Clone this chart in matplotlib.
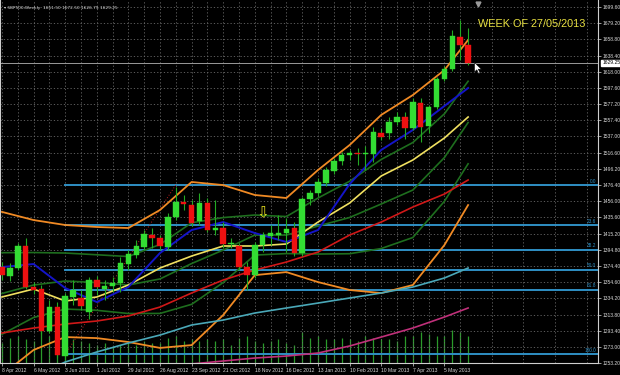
import matplotlib
matplotlib.use("Agg")
import matplotlib.pyplot as plt
from matplotlib.patches import Rectangle
from matplotlib.path import Path
import matplotlib.transforms as mtransforms
import numpy as np

# ---------------- data ----------------
x_labels = ["8 Apr 2012", "6 May 2012", "3 Jun 2012", "1 Jul 2012", "29 Jul 2012",
            "26 Aug 2012", "23 Sep 2012", "21 Oct 2012", "18 Nov 2012", "16 Dec 2012",
            "13 Jan 2013", "10 Feb 2013", "10 Mar 2013", "7 Apr 2013", "5 May 2013"]
x_label_bars = [0, 4, 8, 12, 16, 20, 24, 28, 32, 36, 40, 44, 48, 52, 56]

opens = [1373.4, 1362.2, 1372.2, 1399.8, 1348.4, 1345.9, 1293.2, 1323.3, 1261.9, 1335.9,
         1334.6, 1317.1, 1357.2, 1345.9, 1349.6, 1353.4, 1377.2, 1388.5, 1398.5, 1413.5,
         1409.8, 1398.5, 1436.1, 1454.9, 1451.1, 1431.1, 1453.6, 1419.8, 1422.3, 1402.3,
         1399.8, 1373.4, 1363.4, 1401.0, 1412.3, 1413.5, 1416.0, 1422.3, 1391.0, 1458.7,
         1466.2, 1478.7, 1493.7, 1506.3, 1513.8, 1516.3, 1515.0, 1515.0, 1541.3, 1541.3,
         1555.1, 1561.4, 1547.6, 1578.9, 1550.1, 1573.9, 1609.0, 1621.5, 1661.6, 1651.50]
highs = [1379.7, 1378.5, 1403.5, 1409.8, 1354.7, 1350.9, 1332.1, 1329.6, 1340.9, 1357.2,
         1344.6, 1360.9, 1362.2, 1357.2, 1360.9, 1386.0, 1394.7, 1407.3, 1419.8, 1422.3,
         1413.5, 1441.1, 1473.7, 1463.7, 1457.4, 1466.2, 1459.9, 1457.4, 1429.8, 1409.8,
         1403.5, 1379.7, 1404.8, 1417.3, 1426.1, 1438.6, 1434.8, 1429.8, 1461.2, 1470.0,
         1485.0, 1498.8, 1510.0, 1517.5, 1520.1, 1522.6, 1525.1, 1548.9, 1547.6, 1561.4,
         1567.7, 1567.7, 1585.2, 1585.2, 1576.4, 1611.5, 1625.3, 1670.4, 1682.9, 1672.50]
lows = [1357.2, 1355.9, 1369.7, 1345.9, 1339.6, 1289.5, 1290.8, 1259.4, 1256.9, 1325.8,
        1319.6, 1308.3, 1338.4, 1332.1, 1342.1, 1342.1, 1369.7, 1384.7, 1394.7, 1397.3,
        1394.7, 1394.7, 1432.3, 1444.9, 1424.8, 1426.1, 1417.3, 1413.5, 1397.3, 1397.3,
        1369.7, 1344.6, 1359.7, 1392.2, 1401.0, 1407.3, 1392.0, 1387.2, 1387.2, 1451.1,
        1462.4, 1474.9, 1490.0, 1501.3, 1507.5, 1501.3, 1495.0, 1505.0, 1532.6, 1533.8,
        1551.4, 1533.8, 1545.1, 1530.1, 1541.3, 1571.4, 1606.5, 1619.0, 1632.8, 1626.75]
closes = [1363.4, 1372.2, 1399.8, 1348.4, 1344.6, 1293.2, 1323.3, 1263.2, 1337.1, 1344.6,
          1324.6, 1357.2, 1348.4, 1349.6, 1353.4, 1378.5, 1389.7, 1399.8, 1414.8, 1409.8,
          1399.8, 1436.1, 1454.9, 1452.4, 1428.6, 1453.6, 1419.8, 1422.3, 1402.3, 1403.5,
          1373.4, 1363.4, 1401.0, 1413.5, 1416.0, 1416.0, 1421.1, 1391.0, 1458.7, 1466.2,
          1479.9, 1495.0, 1506.3, 1513.8, 1516.3, 1515.0, 1516.3, 1542.6, 1536.3, 1555.1,
          1561.4, 1547.6, 1580.2, 1548.9, 1573.9, 1609.0, 1621.5, 1662.9, 1651.6, 1629.25]
volumes = [22, 28, 30, 26, 24, 35, 30, 34, 40, 26, 24, 22, 20, 22, 18, 20, 22, 20, 24, 22,
           22, 28, 30, 24, 26, 24, 26, 24, 26, 20, 28, 30, 24, 22, 24, 26, 22, 20, 34, 28,
           30, 26, 26, 28, 26, 24, 30, 28, 26, 26, 24, 30, 30, 34, 32, 30, 30, 36, 34, 30]

ind_bars = [0, 4, 8, 12, 16, 20, 24, 28, 32, 36, 40, 44, 48, 52, 56, 59]
bb_mid = [1340.3, 1350.9, 1355.9, 1354.0, 1350.9, 1358.5, 1377.8, 1394.7, 1413.5, 1413.5,
          1424.8, 1435.5, 1452.4, 1469.9, 1510.6, 1554.5]
bb_sd = [51.1, 40.7, 35.1, 34.8, 35.7, 43.2, 51.1, 40.7, 25.1, 23.2, 35.1, 45.4, 55.8,
         59.5, 54.8, 51.7]
ma_blue = [1373.4, 1377.2, 1347.1, 1329.6, 1348.4, 1391.0, 1419.8, 1429.8, 1416.0, 1404.8,
           1419.8, 1477.4, 1520.1, 1545.1, 1575.2, 1597.7]
ma_yellow = [1335.9, 1345.9, 1330.9, 1335.9, 1350.9, 1372.2, 1387.2, 1399.8, 1399.8, 1402.3,
             1429.8, 1453.6, 1487.5, 1507.5, 1535.1, 1561.4]
ma_red = [1290.8, 1297.0, 1302.0, 1305.8, 1312.1, 1323.3, 1340.9, 1357.2, 1369.7, 1379.7,
          1392.2, 1413.5, 1429.8, 1448.6, 1464.9, 1482.5]
cyan_bars = [7, 8, 12, 16, 20, 24, 28, 32, 36, 40, 44, 48, 52, 56, 59]
ma_cyan = [1250.0, 1254.4, 1267.0, 1278.2, 1288.2, 1300.8, 1307.0, 1315.8, 1322.1, 1328.3,
           1334.6, 1340.9, 1348.4, 1359.7, 1372.2]
mag_bars = [24, 28, 32, 36, 40, 44, 48, 52, 56, 59]
ma_magenta = [1252.0, 1255.7, 1259.4, 1261.9, 1265.7, 1274.5, 1285.7, 1297.0, 1310.8, 1322.1]

fib_start_bar, fib_end_bar = 8, 22
fib_low, fib_high = 1264.0, 1476.4
fib_levels = [0.0, 23.6, 38.2, 50.0, 61.8, 100.0]

y_ticks = [1699.60, 1679.20, 1658.80, 1638.40, 1618.00, 1597.60, 1577.20, 1557.40, 1537.00,
           1516.60, 1496.20, 1476.40, 1456.00, 1435.60, 1415.20, 1394.80, 1374.40, 1354.60,
           1334.20, 1313.80, 1293.40, 1273.00, 1253.20]
bid_price = 1629.25
header = "SBP500,Weekly  1651.50 1672.50 1626.75 1629.25"
note_text = "WEEK OF 27/05/2013"
arrow_bar, arrow_price = 33, 1441.0
cursor_bar, cursor_price = 59.75, 1630.0
shift_bar = 60.25

# ---------------- styling ----------------
BG = "black"
FG = "#d8d8d8"
GRID = "#6a6a6a"
UP = "#33dd33"
DOWN = "#ee1111"
WICK = "#22aa22"
FIBC = "#2f8fc4"

fig = plt.figure(figsize=(6.2, 3.75), dpi=100, facecolor=BG)
ax = fig.add_axes([0.0, 12 / 375, 598 / 620, 363 / 375])
ax.set_facecolor(BG)
ax.set_xlim(-0.25, 75.44)
ax.set_ylim(1253.2, 1708.0)

# volumes on a twin axis
axv = ax.twinx()
axv.set_ylim(0, 400)
axv.vlines(range(len(volumes)), 0, volumes, color="#2a9a2a", lw=0.9, zorder=1)
axv.axis("off")
ax.set_zorder(axv.get_zorder() + 1)
ax.patch.set_visible(False)
fig.patch.set_facecolor(BG)
axv.set_facecolor(BG)

# grid
ax.set_yticks(y_ticks)
ax.set_xticks(x_label_bars)
ax.set_xticks(np.arange(2, 76, 4), minor=True)
ax.grid(True, which="both", color=GRID, ls=(0, (1.5, 2.5)), lw=0.6, zorder=0)

# fibonacci
for lv in fib_levels:
    p = fib_high - lv / 100.0 * (fib_high - fib_low)
    ax.plot([fib_start_bar, 75.44], [p, p], color=FIBC, lw=1.4, zorder=2)
    ax.text(75.2, p + 1.5, f"{lv:.1f}", color=FIBC, fontsize=3.4, ha="right", va="bottom",
            zorder=3, family="Liberation Sans")
ax.plot([fib_start_bar, fib_end_bar], [fib_low, fib_high], color="#c02020", lw=0.7,
        ls=(0, (1, 2)), zorder=2)

# indicator lines
mid = np.array(bb_mid)
sd = np.array(bb_sd)
ax.plot(ind_bars, mid + 2 * sd, color="#f08a24", lw=1.3, zorder=3)
ax.plot(ind_bars, mid - 2 * sd, color="#f08a24", lw=1.3, zorder=3)
ax.plot(ind_bars, mid + sd, color="#1e6e1e", lw=1.2, zorder=3)
ax.plot(ind_bars, mid - sd, color="#1e6e1e", lw=1.2, zorder=3)
ax.plot(ind_bars, mid, color="#1e6e1e", lw=1.2, zorder=3)
ax.plot(cyan_bars, ma_cyan, color="#4aa8b8", lw=1.2, zorder=3)
ax.plot(mag_bars, ma_magenta, color="#c0307a", lw=1.2, zorder=3)
ax.plot(ind_bars, ma_red, color="#d01818", lw=1.2, zorder=3)
ax.plot(ind_bars, ma_yellow, color="#f0e060", lw=1.2, zorder=4)
ax.plot(ind_bars, ma_blue, color="#1414c8", lw=1.4, zorder=4)

# candles
bw = 0.7
for i, (o, h, l, c) in enumerate(zip(opens, highs, lows, closes)):
    ax.vlines(i, l, h, color=WICK, lw=0.8, zorder=5)
    col = UP if c >= o else DOWN
    ax.add_patch(Rectangle((i - bw / 2, min(o, c)), bw, max(abs(c - o), 0.8),
                           facecolor=col, edgecolor=col, lw=0.3, zorder=6))

# bid line
ax.axhline(bid_price, color="#9a9a9a", lw=0.7, zorder=2)

# annotations
ax.text(arrow_bar, arrow_price, "\u21e9", color="#e8e020", fontsize=11, ha="center",
        va="center", zorder=7, family="DejaVu Sans")
ax.text(0.80, 0.935, note_text, transform=ax.transAxes, color="#e8e040", fontsize=7.8,
        family="Liberation Sans", ha="left", va="center", zorder=7)
fig.text(0.006, 0.985, "\u25be " + header, color=FG, fontsize=3.1, ha="left", va="top",
         family="DejaVu Sans")

# mouse cursor and chart-shift marker
cursor = Path([(0, 0), (0, -10), (2.4, -7.6), (4.2, -11.6), (5.8, -10.9), (4.0, -7.0),
               (7.2, -7.0), (0, 0)],
              [Path.MOVETO] + [Path.LINETO] * 6 + [Path.CLOSEPOLY])
ax.plot([cursor_bar], [cursor_price], marker=cursor, markersize=16, mfc="white",
        mec="black", mew=0.4, zorder=12, clip_on=False)
trans = mtransforms.blended_transform_factory(ax.transData, ax.transAxes)
ax.plot([shift_bar], [0.99], marker="v", markersize=3.5, color="#9a9a9a",
        transform=trans, zorder=12, clip_on=False)

# axes / labels
ax.spines["top"].set_visible(False)
for s in ["left", "right", "bottom"]:
    ax.spines[s].set_color("#cfcfcf")
    ax.spines[s].set_linewidth(0.8)
ax.yaxis.tick_right()
ax.set_yticklabels([f"{v:.2f}" for v in y_ticks])
ax.set_xticklabels(x_labels)
ax.tick_params(axis="y", colors=FG, labelsize=3.6, length=2, width=0.5, pad=1.5)
ax.tick_params(axis="x", colors=FG, labelsize=3.6, length=2, width=0.5, pad=1.5)
ax.tick_params(axis="x", which="minor", length=0)
for t in ax.get_xticklabels():
    t.set_ha("left")
    t.set_family("Liberation Sans")
for t in ax.get_yticklabels():
    t.set_family("Liberation Sans")

ax.annotate(f"{bid_price:.2f}", xy=(1.0, bid_price), xycoords=("axes fraction", "data"),
            xytext=(3, 0), textcoords="offset points", fontsize=3.6, color="black",
            va="center", ha="left", family="Liberation Sans",
            bbox=dict(boxstyle="square,pad=0.15", fc="white", ec="white"), zorder=10)

fig.savefig("out.png", dpi=100, facecolor=BG)
